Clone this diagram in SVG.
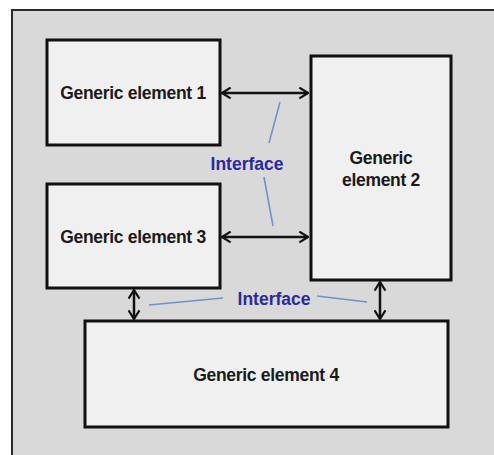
<svg xmlns="http://www.w3.org/2000/svg" width="494" height="455" viewBox="0 0 494 455">
<style>
.box{fill:#f0f0f0;stroke:#111;stroke-width:3}
.lbl{font-family:"Liberation Sans",Arial,sans-serif;font-weight:bold;font-size:17.5px;fill:#1a1a1a;text-anchor:middle;letter-spacing:-0.3px}
.ifc{font-family:"Liberation Sans",Arial,sans-serif;font-weight:bold;font-size:17.5px;fill:#2a2aa0;text-anchor:middle}
.arr{stroke:#111;stroke-width:2.5;fill:none;marker-start:url(#ah);marker-end:url(#ah)}
.lead{stroke:#6f93c9;stroke-width:1.6;fill:none}
</style>
<defs>
<marker id="ah" viewBox="0 0 10 12" refX="9" refY="6" markerWidth="4.4" markerHeight="5.2" orient="auto-start-reverse" markerUnits="strokeWidth">
<path d="M1,1 L9,6 L1,11" fill="none" stroke="#111" stroke-width="2"/>
</marker>
</defs>
<rect width="494" height="455" fill="#ffffff"/>
<rect id="frame" x="12" y="10" width="600" height="500" fill="#d9d9d9" stroke="#2b2b2b" stroke-width="2"/>
<g id="element1">
<rect class="box" x="47" y="40" width="173" height="105"/>
<text class="lbl" x="133" y="99">Generic element 1</text>
</g>
<g id="element2">
<rect class="box" x="311" y="56" width="140" height="224"/>
<text class="lbl" x="381" y="164">Generic</text>
<text class="lbl" x="381" y="186">element 2</text>
</g>
<g id="element3">
<rect class="box" x="47" y="184" width="173" height="104"/>
<text class="lbl" x="133" y="243">Generic element 3</text>
</g>
<g id="element4">
<rect class="box" x="85" y="321" width="363" height="106"/>
<text class="lbl" x="266" y="381">Generic element 4</text>
</g>
<g id="connectors">
<line class="arr" x1="222" y1="93" x2="308" y2="93"/>
<line class="arr" x1="222" y1="237" x2="308" y2="237"/>
<line class="arr" x1="134" y1="290" x2="134" y2="319"/>
<line class="arr" x1="380" y1="282" x2="380" y2="319"/>
</g>
<g id="interface-labels">
<line class="lead" x1="280" y1="102" x2="269" y2="143"/>
<line class="lead" x1="264" y1="177" x2="273" y2="226"/>
<text class="ifc" x="247" y="170">Interface</text>
<line class="lead" x1="149" y1="305" x2="223" y2="298"/>
<line class="lead" x1="317" y1="296" x2="367" y2="302"/>
<text class="ifc" x="274" y="305">Interface</text>
</g>
</svg>
